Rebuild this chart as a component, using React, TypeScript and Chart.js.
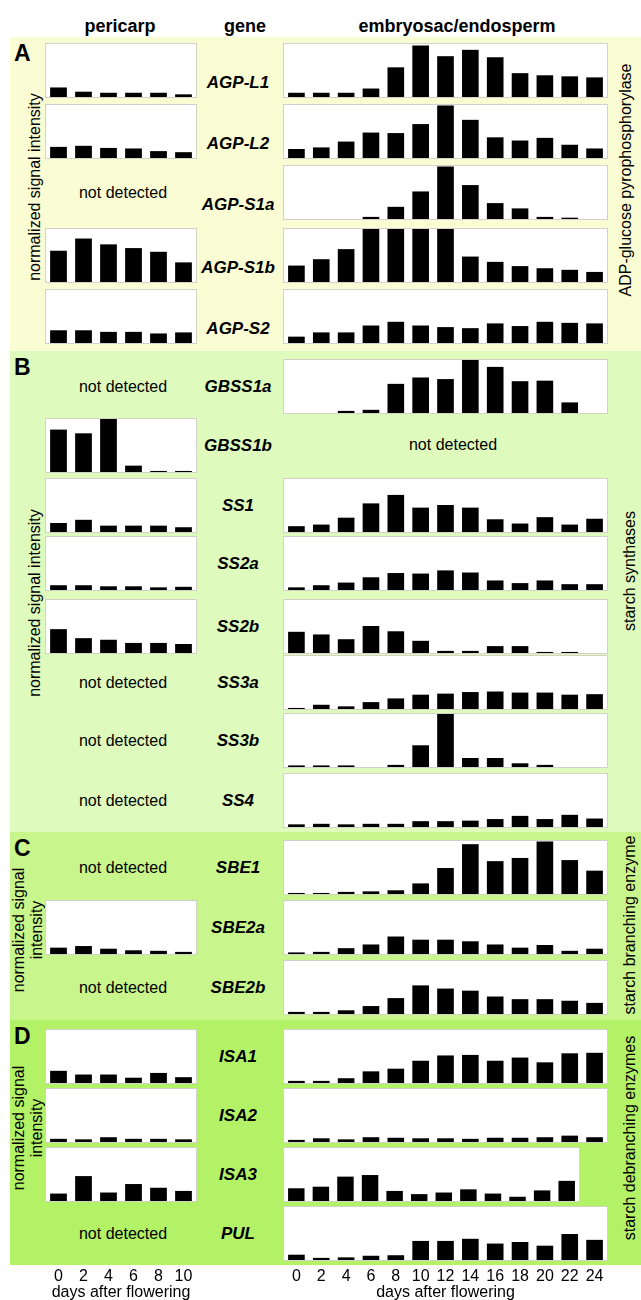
import React, { useEffect, useRef } from 'react';
import { Chart, registerables } from 'chart.js';

Chart.register(...registerables);

const FONT = "'Liberation Sans', Arial, Helvetica, sans-serif";

// ---- data ----
const PERICARP_DAYS = ['0', '2', '4', '6', '8', '10'];
const ENDO_DAYS = ['0', '2', '4', '6', '8', '10', '12', '14', '16', '18', '20', '22', '24'];

const AGP_L1_PERI = [18, 10, 8, 8, 8, 5];
const AGP_L1_ENDO = [8, 8, 8, 16, 56, 97, 77, 89, 75, 45, 41, 39, 37];
const AGP_L2_PERI = [21, 23, 19, 18, 13, 11];
const AGP_L2_ENDO = [17, 20, 31, 48, 47, 64, 99, 72, 39, 33, 38, 25, 18];
const AGP_S1A_ENDO = [null, null, null, 4, 23, 52, 99, 64, 30, 20, 4, 2.5, null];
const AGP_S1B_PERI = [59, 82, 71, 64, 57, 37];
const AGP_S1B_ENDO = [31, 43, 62, 100, 100, 100, 100, 48, 38, 30, 26, 23, 19];
const AGP_S2_PERI = [24, 24, 21, 21, 18, 20];
const AGP_S2_ENDO = [12, 20, 20, 33, 40, 33, 30, 28, 37, 32, 40, 38, 37];

const GBSS1A_ENDO = [null, null, 4, 6, 55, 67, 64, 100, 87, 60, 61, 20, null];
const GBSS1B_PERI = [80, 73, 100, 12, 2, 2];
const SS1_PERI = [17, 23, 12, 12, 12, 9];
const SS1_ENDO = [11, 14, 27, 54, 70, 46, 51, 46, 24, 16, 28, 14, 25];
const SS2A_PERI = [9, 9, 7, 7, 5, 6];
const SS2A_ENDO = [5, 9, 14, 24, 32, 31, 37, 33, 18, 13, 18, 11, 11];
const SS2B_PERI = [45, 28, 25, 19, 19, 17];
const SS2B_ENDO = [40, 35, 26, 51, 41, 23, 4, 4, 13, 13, 2, 2, null];
const SS3A_ENDO = [2, 8, 5, 13, 20, 27, 29, 32, 33, 31, 31, 27, 28];
const SS3B_ENDO = [3, 3, 3, null, 4, 41, 100, 17, 17, 7, 4, null, null];
const SS4_ENDO = [5, 6, 5, 6, 6, 11, 11, 12, 15, 21, 15, 23, 16];

const SBE1_ENDO = [2, 2, 4, 5, 7, 20, 49, 94, 62, 68, 99, 64, 44];
const SBE2A_PERI = [12, 15, 10, 7, 6, 4];
const SBE2A_ENDO = [3, 4, 11, 18, 33, 27, 27, 24, 18, 12, 17, 6, 10];
const SBE2B_ENDO = [4, 4, 7, 15, 30, 54, 48, 44, 33, 28, 28, 25, 21];

const ISA1_PERI = [23, 16, 16, 10, 19, 11];
const ISA1_ENDO = [4, 4, 9, 22, 27, 42, 52, 53, 42, 48, 39, 56, 57];
const ISA2_PERI = [6, 5, 9, 6, 6, 5];
const ISA2_ENDO = [4, 7, 5, 9, 8, 7, 7, 6, 8, 8, 9, 12, 9];
const ISA3_PERI = [14, 47, 16, 32, 25, 19];
const ISA3_ENDO = [24, 27, 46, 49, 19, 13, 16, 22, 14, 8, 20, 38];
const PUL_ENDO = [10, 4, 5, 8, 9, 36, 36, 40, 31, 34, 27, 49, 38];

type Vals = (number | null)[] | null;
type Row = { gene: string; panel: number; peri: Vals; endo: Vals };

const ROWS: Row[] = [
  { gene: 'AGP-L1', panel: 0, peri: AGP_L1_PERI, endo: AGP_L1_ENDO },
  { gene: 'AGP-L2', panel: 0, peri: AGP_L2_PERI, endo: AGP_L2_ENDO },
  { gene: 'AGP-S1a', panel: 0, peri: null, endo: AGP_S1A_ENDO },
  { gene: 'AGP-S1b', panel: 0, peri: AGP_S1B_PERI, endo: AGP_S1B_ENDO },
  { gene: 'AGP-S2', panel: 0, peri: AGP_S2_PERI, endo: AGP_S2_ENDO },
  { gene: 'GBSS1a', panel: 1, peri: null, endo: GBSS1A_ENDO },
  { gene: 'GBSS1b', panel: 1, peri: GBSS1B_PERI, endo: null },
  { gene: 'SS1', panel: 1, peri: SS1_PERI, endo: SS1_ENDO },
  { gene: 'SS2a', panel: 1, peri: SS2A_PERI, endo: SS2A_ENDO },
  { gene: 'SS2b', panel: 1, peri: SS2B_PERI, endo: SS2B_ENDO },
  { gene: 'SS3a', panel: 1, peri: null, endo: SS3A_ENDO },
  { gene: 'SS3b', panel: 1, peri: null, endo: SS3B_ENDO },
  { gene: 'SS4', panel: 1, peri: null, endo: SS4_ENDO },
  { gene: 'SBE1', panel: 2, peri: null, endo: SBE1_ENDO },
  { gene: 'SBE2a', panel: 2, peri: SBE2A_PERI, endo: SBE2A_ENDO },
  { gene: 'SBE2b', panel: 2, peri: null, endo: SBE2B_ENDO },
  { gene: 'ISA1', panel: 3, peri: ISA1_PERI, endo: ISA1_ENDO },
  { gene: 'ISA2', panel: 3, peri: ISA2_PERI, endo: ISA2_ENDO },
  { gene: 'ISA3', panel: 3, peri: ISA3_PERI, endo: ISA3_ENDO },
  { gene: 'PUL', panel: 3, peri: null, endo: PUL_ENDO },
];

const PANEL_LETTERS = ['A', 'B', 'C', 'D'];
const GROUP_NAMES = [
  'ADP-glucose pyrophosphorylase',
  'starch synthases',
  'starch branching enzyme',
  'starch debranching enzymes',
];
const Y_LABELS = [
  ['normalized signal intensity'],
  ['normalized signal intensity'],
  ['normalized signal', 'intensity'],
  ['normalized signal', 'intensity'],
];

// ---- layout ----
const ROW_TOPS = [43, 104, 165, 228, 289, 359, 418, 478, 536, 599, 655, 713, 773, 840, 900, 960, 1029, 1088, 1147, 1206];
const PANEL_TOPS = [37, 351, 832, 1020];
const PANEL_BOTTOMS = [351, 832, 1020, 1265];
const PANEL_COLORS = ['#fafdd4', '#defbbd', '#c9f68c', '#b3f266'];
const GROUP_Y = [180, 571, 925, 1138];
const YLABEL_Y = [187, 603, 930, 1128];
const GENE_OFFSET = [39, 27, 27, 27];
const BOX_H = 55;
const PERI_X = 45;
const PERI_W = 152;
const ENDO_X = 283;
const ENDO_W = 325;
const ENDO_W_SHORT = 297;
const BORDER = '#d2d3c6';
const AXIS_H = 80;
const AXIS_BOTTOM = 1301;

type Spec = { x: number; y: number; w: number; h: number; labels: string[]; values: Vals; axis: boolean };

function buildSpecs(): Spec[] {
  const specs: Spec[] = [];
  // axis-only charts first so the bar boxes are drawn above them
  specs.push({ x: PERI_X + 1, y: AXIS_BOTTOM - AXIS_H, w: PERI_W - 2, h: AXIS_H, labels: PERICARP_DAYS, values: null, axis: true });
  specs.push({ x: ENDO_X + 1, y: AXIS_BOTTOM - AXIS_H, w: ENDO_W - 2, h: AXIS_H, labels: ENDO_DAYS, values: null, axis: true });
  ROWS.forEach((r, i) => {
    const top = ROW_TOPS[i];
    if (r.peri) specs.push({ x: PERI_X, y: top, w: PERI_W, h: BOX_H, labels: PERICARP_DAYS, values: r.peri, axis: false });
    if (r.endo) {
      const w = r.endo.length === ENDO_DAYS.length ? ENDO_W : ENDO_W_SHORT;
      specs.push({ x: ENDO_X, y: top, w, h: BOX_H, labels: ENDO_DAYS.slice(0, r.endo.length), values: r.endo, axis: false });
    }
  });
  return specs;
}

const SPECS = buildSpecs();

function barConfig(spec: Spec): any {
  return {
    type: 'bar',
    data: {
      labels: spec.labels,
      datasets: [
        {
          data: spec.values,
          backgroundColor: '#000000',
          borderWidth: 0,
          barPercentage: 0.67,
          categoryPercentage: 1,
        },
      ],
    },
    options: {
      responsive: false,
      animation: false,
      events: [],
      layout: { padding: 0 },
      plugins: { legend: { display: false }, tooltip: { enabled: false } },
      scales: {
        x: { display: false, offset: true },
        y: { display: false, min: 0, max: 100 },
      },
    },
  };
}

function axisConfig(spec: Spec): any {
  return {
    type: 'bar',
    data: { labels: spec.labels, datasets: [] },
    options: {
      responsive: false,
      animation: false,
      events: [],
      layout: { padding: 0 },
      plugins: { legend: { display: false }, tooltip: { enabled: false } },
      scales: {
        x: {
          display: true,
          offset: true,
          grid: { display: false, drawTicks: false },
          border: { display: false },
          ticks: {
            autoSkip: false,
            maxRotation: 0,
            padding: 0,
            color: '#000',
            font: { size: 16, lineHeight: 1, family: FONT },
          },
          title: {
            display: true,
            text: 'days after flowering',
            color: '#000',
            padding: { top: 0, bottom: 0 },
            font: { size: 16, lineHeight: 1, family: FONT },
          },
        },
        y: { display: false, min: 0, max: 100 },
      },
    },
  };
}

const textBase: React.CSSProperties = {
  position: 'absolute',
  lineHeight: 1,
  whiteSpace: 'nowrap',
  color: '#000',
  fontFamily: FONT,
};

function Label({ x, y, text, size = 16, bold = false, italic = false, rotate = false }: any) {
  return (
    <div
      style={{
        ...textBase,
        left: x,
        top: y,
        fontSize: size,
        fontWeight: bold ? 'bold' : 'normal',
        fontStyle: italic ? 'italic' : 'normal',
        transform: rotate ? 'translate(-50%, -50%) rotate(-90deg)' : 'translate(-50%, -50%)',
      }}
    >
      {text}
    </div>
  );
}

export default function App() {
  const canvases = useRef<(HTMLCanvasElement | null)[]>([]);

  useEffect(() => {
    const charts: Chart[] = [];
    SPECS.forEach((spec, i) => {
      const c = canvases.current[i];
      if (!c) return;
      charts.push(new Chart(c, spec.axis ? axisConfig(spec) : barConfig(spec)));
    });
    return () => charts.forEach((ch) => ch.destroy());
  }, []);

  return (
    <div style={{ position: 'absolute', left: 0, top: 0, width: 641, height: 1300, background: '#fff', overflow: 'hidden', fontFamily: FONT }}>
      {PANEL_TOPS.map((t, p) => (
        <div
          key={'panel' + p}
          style={{ position: 'absolute', left: 10, top: t, width: 631, height: PANEL_BOTTOMS[p] - t, background: PANEL_COLORS[p] }}
        />
      ))}

      <Label x={120} y={26} text="pericarp" size={18} bold />
      <Label x={245} y={26} text="gene" size={18} bold />
      <Label x={457} y={26} text="embryosac/endosperm" size={18} bold />

      {PANEL_TOPS.map((t, p) => (
        <div key={'letter' + p} style={{ ...textBase, left: 14, top: t + 5, fontSize: 23, fontWeight: 'bold' }}>
          {PANEL_LETTERS[p]}
        </div>
      ))}

      {Y_LABELS.map((lines, p) =>
        lines.length === 1 ? (
          <Label key={'yl' + p} x={35} y={YLABEL_Y[p]} text={lines[0]} size={16} rotate />
        ) : (
          <React.Fragment key={'yl' + p}>
            <Label x={19} y={YLABEL_Y[p]} text={lines[0]} size={16} rotate />
            <Label x={37} y={YLABEL_Y[p]} text={lines[1]} size={16} rotate />
          </React.Fragment>
        )
      )}

      {GROUP_NAMES.map((g, p) => (
        <Label key={'grp' + p} x={p === 0 ? 626 : 630} y={GROUP_Y[p]} text={g} size={16} rotate />
      ))}

      {ROWS.map((r, i) => {
        const top = ROW_TOPS[i];
        return (
          <React.Fragment key={'row' + i}>
            <Label x={238} y={top + GENE_OFFSET[r.panel]} text={r.gene} size={17} bold italic />
            {!r.peri && <Label x={123} y={top + 28} text="not detected" size={16} />}
            {!r.endo && <Label x={453} y={top + 27} text="not detected" size={16} />}
          </React.Fragment>
        );
      })}

      {SPECS.map((s, i) =>
        s.axis ? (
          <canvas
            key={'c' + i}
            ref={(el) => {
              canvases.current[i] = el;
            }}
            width={s.w}
            height={s.h}
            style={{ position: 'absolute', left: s.x, top: s.y, width: s.w, height: s.h, display: 'block' }}
          />
        ) : (
          <div
            key={'c' + i}
            style={{
              position: 'absolute',
              left: s.x,
              top: s.y,
              width: s.w,
              height: s.h,
              boxSizing: 'border-box',
              border: '1px solid ' + BORDER,
              background: '#fff',
            }}
          >
            <canvas
              ref={(el) => {
                canvases.current[i] = el;
              }}
              width={s.w - 2}
              height={s.h - 2}
              style={{ display: 'block', width: s.w - 2, height: s.h - 2 }}
            />
          </div>
        )
      )}
    </div>
  );
}
